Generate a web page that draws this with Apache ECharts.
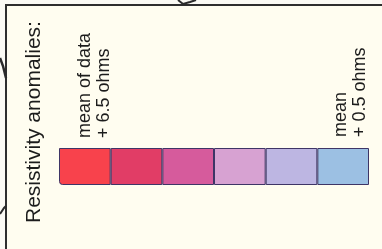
<!DOCTYPE html>
<html>
<head>
<meta charset="utf-8">
<script src="https://cdn.jsdelivr.net/npm/echarts@6/dist/echarts.min.js"></script>
<style>
  html, body { margin: 0; padding: 0; background: #fbfaf4; }
  #main { width: 382px; height: 249px; }
</style>
</head>
<body>
<div id="main"></div>
<script>
// legend classes, strongest anomaly first
var classes = ['c1', 'c2', 'c3', 'c4', 'c5', 'c6'];
var swatchValues = [1, 1, 1, 1, 1, 1];
var swatchColors = ['#f8424c', '#e13d66', '#d65b9c', '#d7a2d2', '#bdb6e2', '#9cc0e3'];
var title = 'Resistivity anomalies:';
var topLabel = ['mean of data', '+ 6.5 ohms'];
var bottomLabel = ['mean', '+ 0.5 ohms'];

var myChart = echarts.init(document.getElementById('main'));

var font = '"Liberation Sans", Arial, sans-serif';

function rotText(x, y, lines, size, lh) {
    return {
        type: 'text',
        x: x,
        y: y,
        rotation: Math.PI / 2,
        style: {
            text: lines.join('\n'),
            fontFamily: font,
            fontSize: size,
            lineHeight: lh,
            fill: '#1c1c1c',
            align: 'left',
            verticalAlign: 'top'
        }
    };
}

var option = {
    backgroundColor: '#fbfaf4',
    animation: false,
    grid: { left: 59, top: 148, width: 310, height: 37 },
    xAxis: {
        type: 'category',
        data: classes,
        show: false
    },
    yAxis: {
        type: 'value',
        min: 0,
        max: 1,
        show: false
    },
    series: [{
        type: 'bar',
        barCategoryGap: '0%',
        data: swatchValues.map(function (v, i) {
            return {
                value: v,
                itemStyle: {
                    color: swatchColors[i],
                    borderRadius: i === 0 ? [0, 0, 0, 3] : 0
                }
            };
        }),
        itemStyle: { borderColor: '#3e3566', borderWidth: 1 }
    }],
    graphic: [
        // panel
        { type: 'rect', z: -10, shape: { x: 6, y: 5, width: 380, height: 250 },
          style: { fill: '#fffdf0', stroke: '#2e2e2e', lineWidth: 2 } },
        // bits of map linework outside the frame
        { type: 'polyline', shape: { points: [[0, 58], [3, 66], [6, 78]] },
          style: { stroke: '#2a2a2a', lineWidth: 2.5, fill: null } },
        { type: 'polyline', shape: { points: [[0, 214], [4, 208], [6, 206]] },
          style: { stroke: '#2a2a2a', lineWidth: 2, fill: null } },
        { type: 'polyline', shape: { points: [[178, 0], [183, 4], [190, 2], [196, 0]] },
          style: { stroke: '#2a2a2a', lineWidth: 2, fill: null } },
        rotText(22, 223, [title], 21, 24),
        rotText(76, 138, topLabel, 18, 19),
        rotText(332, 137, bottomLabel, 18, 19)
    ]
};

myChart.setOption(option);
</script>
</body>
</html>
